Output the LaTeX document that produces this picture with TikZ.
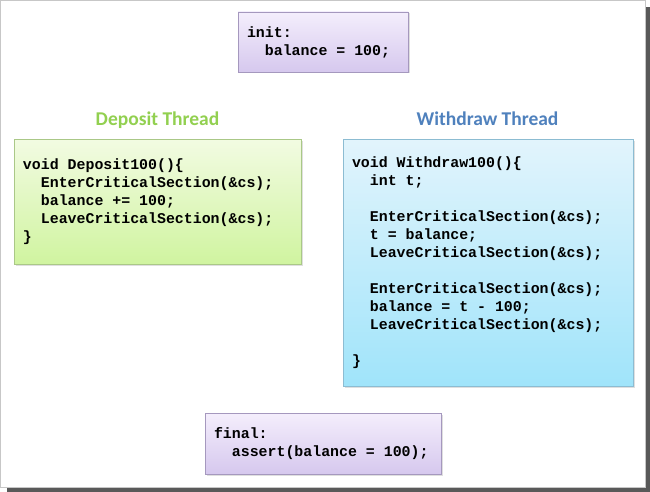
\documentclass[tikz,border=0pt]{standalone}
\usepackage{fontspec}
\setmonofont{Liberation Mono}
\newfontfamily\titlefont{Carlito}
\usetikzlibrary{shadows}
\definecolor{pTop}{RGB}{244,238,252}
\definecolor{pBot}{RGB}{214,200,238}
\definecolor{pBrd}{RGB}{165,152,190}
\definecolor{gTop}{RGB}{242,251,226}
\definecolor{gBot}{RGB}{208,244,160}
\definecolor{gBrd}{RGB}{170,200,135}
\definecolor{bTop}{RGB}{226,244,252}
\definecolor{bBot}{RGB}{160,228,250}
\definecolor{bBrd}{RGB}{140,188,210}
\definecolor{gTitle}{RGB}{146,208,80}
\definecolor{bTitle}{RGB}{79,129,189}
\newcommand{\ind}{\phantom{vo}}
\newcommand{\msp}{\spaceskip=8.94pt\relax\xspaceskip=8.94pt\relax}
\newcommand{\codefont}{\ttfamily\bfseries\fontsize{14.9}{18}\selectfont}
\tikzset{
  x=1pt, y=1pt,
  codebox/.style={rectangle, draw, line width=0.8pt, inner xsep=9pt, inner ysep=0pt,
    align=left, font=\codefont,
    drop shadow={shadow xshift=1.5pt, shadow yshift=-1.5pt, opacity=0.25}},
  purplebox/.style={codebox, draw=pBrd, top color=pTop, bottom color=pBot},
  greenbox/.style={codebox, draw=gBrd, top color=gTop, bottom color=gBot},
  bluebox/.style={codebox, draw=bBrd, top color=bTop, bottom color=bBot},
  title/.style={font=\titlefont\bfseries\fontsize{19.5}{22}\selectfont, inner sep=0pt, anchor=base}
}
\begin{document}
\begin{tikzpicture}
\useasboundingbox (0,0) rectangle (650,-492);
% page frame with shadow
\fill[black!65] (7,-7) rectangle (649.5,-491.5);
\fill[white, draw=black!22, line width=1pt] (0.5,-0.5) rectangle (645.5,-487.5);

\node[purplebox, minimum width=170pt, minimum height=60pt, text width=152pt] (init) at (323,-42)
  {\msp init:\\\ind balance = 100;};

\node[title, text=gTitle] (dtitle) at (157.5,-125) {Deposit Thread};
\node[title, text=bTitle] (wtitle) at (487.5,-125) {Withdraw Thread};

\node[greenbox, minimum width=287pt, minimum height=125pt, text width=269pt] (dep) at (157.5,-201.5)
  {\msp void Deposit100()\{\\
   \ind EnterCriticalSection(\&cs);\\
   \ind balance += 100;\\
   \ind LeaveCriticalSection(\&cs);\\
   \}};

\node[bluebox, minimum width=290pt, minimum height=247pt, text width=272pt] (wd) at (488,-262.5)
  {\msp void Withdraw100()\{\\
   \ind int t;\\
   \mbox{}\\
   \ind EnterCriticalSection(\&cs);\\
   \ind t = balance;\\
   \ind LeaveCriticalSection(\&cs);\\
   \mbox{}\\
   \ind EnterCriticalSection(\&cs);\\
   \ind balance = t - 100;\\
   \ind LeaveCriticalSection(\&cs);\\
   \mbox{}\\
   \}};

\node[purplebox, minimum width=236pt, minimum height=61pt, text width=218pt] (fin) at (323,-443.5)
  {\msp final:\\\ind assert(balance = 100);};
\end{tikzpicture}
\end{document}
